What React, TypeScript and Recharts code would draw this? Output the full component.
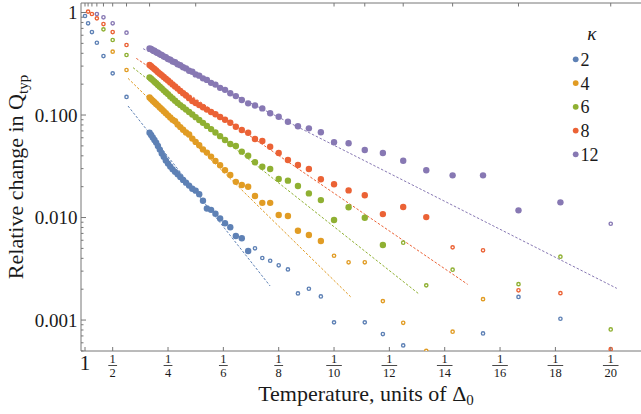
import React from 'react';
import { ComposedChart, Scatter, XAxis, YAxis, Legend } from 'recharts';

// Temperatures (units of Delta0) at which each series was sampled
const temperatures = [
  1, 0.9, 0.8, 0.7, 0.6, 0.5, 0.4,
  0.3, 0.295, 0.29, 0.285, 0.28, 0.275, 0.27, 0.265, 0.26, 0.255,
  0.25, 0.245, 0.24, 0.235, 0.23, 0.225, 0.22, 0.215, 0.21, 0.205,
  0.2, 0.195, 0.19, 0.185, 0.18, 0.175, 0.17, 0.165,
  0.16, 0.155, 0.15, 0.145, 0.14, 0.135, 0.13, 0.125, 0.12, 0.115,
  0.11, 0.105, 0.1, 0.095, 0.09, 0.085, 0.08, 0.075, 0.07, 0.065,
  0.06, 0.055, 0.05,
];

const kappas = ['2', '4', '6', '8', '12'];
const colors = ['#5E81B5', '#E19C24', '#8FB032', '#EB6235', '#8778B3'];

// relative change in Q_typ, aligned with `temperatures`
const kappa2 = [
  0.924, 0.785, 0.645, 0.507, 0.376, 0.255, 0.150,
  0.0673, 0.0638, 0.0604, 0.0570, 0.0538, 0.0499, 0.0460, 0.0422, 0.0391, 0.0361,
  0.0336, 0.0314, 0.0295, 0.0279, 0.0264, 0.0248, 0.0233, 0.0219, 0.0205, 0.0191,
  0.0183, 0.0169, 0.0146, 0.01225, 0.01189, 0.01089, 0.00977, 0.00879,
  0.00804, 0.0066, 0.00627, 0.00471, 0.00501, 0.00403, 0.00379, 0.00342, 0.00312, 0.00182,
  0.00202, 0.0017, 0.00095, null, 0.00095, 0.00073, 0.000566, null, null, 0.00074,
  0.00168, 0.00103, null,
];
const kappa4 = [
  null, null, null, null, null, 0.415, 0.275,
  0.148, 0.143, 0.138, 0.133, 0.128, 0.1236, 0.1186, 0.1138, 0.1089, 0.104,
  0.0993, 0.0946, 0.0899, 0.0868, 0.0807, 0.0762, 0.0718, 0.0675, 0.0645, 0.0589,
  0.0547, 0.0507, 0.0462, 0.043, 0.0393, 0.0357, 0.0324, 0.029,
  0.026, 0.0223, 0.0208, 0.02, 0.0162, 0.0139, 0.0139, 0.01058, 0.01035, 0.00744,
  0.00675, 0.0059, 0.00424, 0.00366, 0.00366, 0.00153, 0.00094, 0.0005, 0.00077, 0.0016,
  null, null, null,
];
const kappa6 = [
  null, null, null, null, 0.685, 0.539, 0.385,
  0.233, 0.226, 0.219, 0.211, 0.204, 0.196, 0.189, 0.182, 0.174, 0.167,
  0.16, 0.152, 0.145, 0.138, 0.131, 0.125, 0.119, 0.113, 0.107, 0.1011,
  0.0953, 0.0895, 0.0839, 0.0783, 0.0729, 0.0675, 0.0622, 0.0571,
  0.0521, 0.0499, 0.0439, 0.0401, 0.0346, 0.0313, 0.0297, 0.0238, 0.0229, 0.0203,
  0.0172, 0.0148, 0.00946, 0.0126, 0.00995, 0.0054, 0.00568, 0.00218, 0.0031, null,
  0.00224, 0.00415, 0.00081,
];
const kappa8 = [
  null, 1.02, 0.967, 0.877, 0.772, 0.645, 0.482,
  0.308, 0.299, 0.29, 0.281, 0.272, 0.262, 0.253, 0.244, 0.235, 0.226,
  0.217, 0.208, 0.199, 0.19, 0.181, 0.172, 0.163, 0.155, 0.146, 0.137,
  0.131, 0.125, 0.119, 0.113, 0.107, 0.1016, 0.0957, 0.0899,
  0.0841, 0.0769, 0.0714, 0.0672, 0.0583, 0.0557, 0.0491, 0.0426, 0.0364, 0.0325,
  0.0297, 0.0236, 0.0211, 0.0184, 0.0165, 0.0108, 0.01265, 0.0101, 0.00512, 0.00479,
  0.00195, 0.00183, 0.00052,
];
const kappa12 = [
  null, null, null, 0.967, 0.898, 0.785, 0.635,
  0.446, 0.44, 0.428, 0.423, 0.41, 0.405, 0.391, 0.386, 0.372, 0.366,
  0.352, 0.347, 0.333, 0.327, 0.313, 0.306, 0.292, 0.285, 0.27, 0.264,
  0.249, 0.242, 0.228, 0.22, 0.206, 0.198, 0.184, 0.176,
  0.163, 0.153, 0.14, 0.13, 0.124, 0.116, 0.104, 0.0962, 0.0861, 0.0776,
  0.0741, 0.0678, 0.0542, 0.053, 0.0456, 0.0426, 0.0358, 0.0289, 0.0258, 0.0258,
  0.01175, 0.01407, 0.0087,
];
const seriesValues = [kappa2, kappa4, kappa6, kappa8, kappa12];

// points between T = 0.3 and this temperature are drawn as filled discs
const filledUpperT = 0.3;
const filledLowerT = [0.145, 0.105, 0.085, 0.075, 0.055];

// dashed power-law fits: [beta, value] at both ends
const fitStart = [[2.554, 0.1225], [2.554, 0.228], [2.735, 0.29], [2.854, 0.357], [3.1, 0.4436]];
const fitEnd = [[7.69, 0.002148], [10.6, 0.001687], [13.07, 0.001795], [14.83, 0.002228], [20.22, 0.002037]];

// axes
const xTicks = [1, 2, 4, 6, 8, 10, 12, 14, 16, 18, 20];
const topTickTemps = [1, 0.9, 0.8, 0.7, 0.6, 0.5, 0.4, 0.3, 0.2, 0.1, 0.09, 0.08, 0.07, 0.06, 0.05];
const yMajor = [0.001, 0.01, 0.1, 1];
const yMajorLabels = ['0.001', '0.010', '0.100', '1'];
const yMinor = [
  0.0005, 0.0006, 0.0007, 0.0008, 0.0009,
  0.002, 0.003, 0.004, 0.005, 0.006, 0.007, 0.008, 0.009,
  0.02, 0.03, 0.04, 0.05, 0.06, 0.07, 0.08, 0.09,
  0.2, 0.3, 0.4, 0.5, 0.6, 0.7, 0.8, 0.9,
];

const X_DOMAIN: [number, number] = [0.855, 21.094];
const Y_DOMAIN: [number, number] = [0.000499, 1.238];

const FONT = '"Liberation Serif", "Times New Roman", serif';
const AXIS = '#777';
const TEXT = '#1a1a1a';
const textStyle = { fontFamily: FONT };

const close = (a: number, b: number) => Math.abs(a - b) < 1e-9;

function buildSeries(i: number) {
  const filled: { x: number; y: number }[] = [];
  const open: { x: number; y: number }[] = [];
  temperatures.forEach((t, k) => {
    const v = seriesValues[i][k];
    if (v == null) return;
    const p = { x: 1 / t, y: v };
    if (t <= filledUpperT + 1e-9 && t >= filledLowerT[i] - 1e-9) filled.push(p);
    else open.push(p);
  });
  const fit = [
    { x: fitStart[i][0], y: fitStart[i][1] },
    { x: fitEnd[i][0], y: fitEnd[i][1] },
  ];
  return { filled, open, fit };
}

const series = kappas.map((_, i) => buildSeries(i));

const BottomTick = (props: any) => {
  const { x, y, payload } = props;
  const v = payload.value as number;
  const tick = <line x1={x} x2={x} y1={y} y2={y - 4} stroke={AXIS} strokeWidth={1} />;
  if (close(v, 1)) {
    return (
      <g>
        {tick}
        <text x={x} y={y + 12} fontSize={21} style={textStyle} fill={TEXT} textAnchor="middle" dominantBaseline="central">1</text>
      </g>
    );
  }
  const den = String(v);
  const half = den.length * 3.4 + 1;
  return (
    <g>
      {tick}
      <text x={x} y={y + 7.6} fontSize={12.5} style={textStyle} fill={TEXT} textAnchor="middle" dominantBaseline="central">1</text>
      <line x1={x - half} x2={x + half} y1={y + 14.5} y2={y + 14.5} stroke={TEXT} strokeWidth={0.8} />
      <text x={x} y={y + 22} fontSize={12.5} style={textStyle} fill={TEXT} textAnchor="middle" dominantBaseline="central">{den}</text>
    </g>
  );
};

const TopTick = (props: any) => {
  const { x, y } = props;
  return <line x1={x} x2={x} y1={y} y2={y + 3.5} stroke={AXIS} strokeWidth={1} />;
};

const LeftTick = (props: any) => {
  const { x, y, payload } = props;
  const v = payload.value as number;
  const mi = yMajor.findIndex((m) => Math.abs(m - v) / m < 1e-6);
  if (mi >= 0) {
    return (
      <g>
        <line x1={x} x2={x + 5} y1={y} y2={y} stroke={AXIS} strokeWidth={1} />
        <text x={x - 3.5} y={y} fontSize={19} style={textStyle} fill={TEXT} textAnchor="end" dominantBaseline="central">{yMajorLabels[mi]}</text>
      </g>
    );
  }
  return <line x1={x} x2={x + 2.5} y1={y} y2={y} stroke={AXIS} strokeWidth={1} />;
};

const YTitle = () => (
  <text transform="translate(23,177) rotate(-90)" textAnchor="middle" style={textStyle} fontSize={22} fill={TEXT}>
    Relative change in Q<tspan fontSize={15} dy={5}>typ</tspan>
  </text>
);

const XTitle = () => (
  <text x={366} y={401} textAnchor="middle" style={textStyle} fontSize={22} fill={TEXT}>
    Temperature, units of Δ<tspan fontSize={15} dy={4}>0</tspan>
  </text>
);

const LegendBox = () => (
  <svg width={80} height={150} style={{ overflow: 'visible', fontFamily: FONT }}>
    <text x={31.7} y={15} style={textStyle} fontStyle="italic" fontSize={19} fill={TEXT} textAnchor="middle" dominantBaseline="central">κ</text>
    {kappas.map((k, i) => {
      const cy = 41.3 + i * 23.75;
      return (
        <g key={k}>
          <circle cx={15.7} cy={cy} r={2.9} fill={colors[i]} />
          <text x={20.5} y={cy + 0.5} style={textStyle} fontSize={18} fill={TEXT} dominantBaseline="central">{k}</text>
        </g>
      );
    })}
  </svg>
);

const filledShape = (color: string) => (p: any) =>
  p.cx == null ? <g /> : <circle cx={p.cx} cy={p.cy} r={3.2} fill={color} />;
const openShape = (color: string) => (p: any) =>
  p.cx == null ? <g /> : <circle cx={p.cx} cy={p.cy} r={1.65} fill="#fff" stroke={color} strokeWidth={1.4} />;
const noShape = () => <g />;

export default function App() {
  return (
    <div style={{ position: 'absolute', left: 0, top: 0, width: 641, height: 414, background: '#fff', fontFamily: FONT }}>
      <ComposedChart width={641} height={414} margin={{ top: 0, right: 0, bottom: 0, left: 0 }}>
        <XAxis
          xAxisId="b"
          dataKey="x"
          type="number"
          orientation="bottom"
          domain={X_DOMAIN}
          allowDataOverflow
          ticks={xTicks}
          interval={0}
          height={63}
          tickSize={0}
          tickMargin={0}
          tickLine={false}
          axisLine={{ stroke: AXIS, strokeWidth: 1 }}
          tick={(p: any) => <BottomTick {...p} />}
          label={<XTitle />}
        />
        <XAxis
          xAxisId="t"
          dataKey="x"
          type="number"
          orientation="top"
          domain={X_DOMAIN}
          allowDataOverflow
          ticks={topTickTemps.map((t) => 1 / t)}
          interval={0}
          height={3}
          tickSize={0}
          tickMargin={0}
          tickLine={false}
          axisLine={{ stroke: AXIS, strokeWidth: 1 }}
          tick={(p: any) => <TopTick {...p} />}
        />
        <YAxis
          dataKey="y"
          type="number"
          scale="log"
          domain={Y_DOMAIN}
          allowDataOverflow
          ticks={[...yMinor, ...yMajor].sort((a, b) => a - b)}
          interval={0}
          width={81}
          tickSize={0}
          tickMargin={0}
          tickLine={false}
          axisLine={{ stroke: AXIS, strokeWidth: 1 }}
          tick={(p: any) => <LeftTick {...p} />}
          label={<YTitle />}
        />
        <Legend
          layout="vertical"
          align="center"
          verticalAlign="middle"
          wrapperStyle={{ position: 'absolute', left: 560, top: 18, width: 80, height: 150 }}
          content={() => <LegendBox />}
        />
        {series.map((s, i) => (
          <Scatter
            key={'fit' + i}
            xAxisId="b"
            name={'fit' + kappas[i]}
            data={s.fit}
            shape={noShape}
            line={{ stroke: colors[i], strokeWidth: 1, strokeDasharray: '2.5 1.8' }}
            legendType="none"
            isAnimationActive={false}
          />
        ))}
        {series.map((s, i) => (
          <Scatter
            key={'open' + i}
            xAxisId="b"
            name={'open' + kappas[i]}
            data={s.open}
            shape={openShape(colors[i])}
            legendType="none"
            isAnimationActive={false}
          />
        ))}
        {series.map((s, i) => (
          <Scatter
            key={'filled' + i}
            xAxisId="b"
            name={kappas[i]}
            data={s.filled}
            shape={filledShape(colors[i])}
            isAnimationActive={false}
          />
        ))}
      </ComposedChart>
    </div>
  );
}
